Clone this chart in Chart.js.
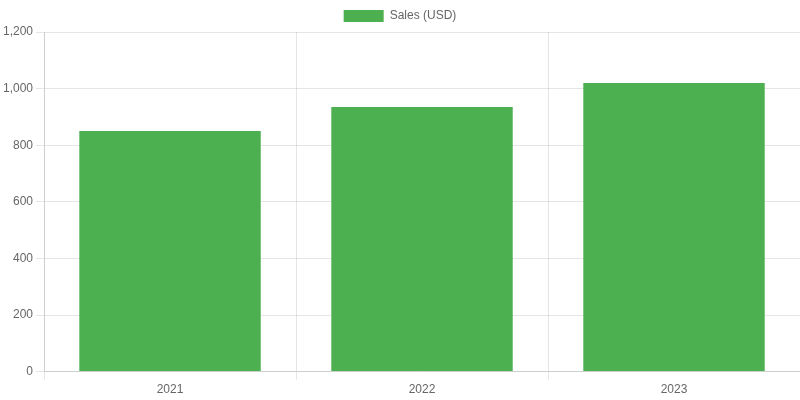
<!DOCTYPE html>
<html>
<head>
<meta charset="utf-8">
<script src="https://cdn.jsdelivr.net/npm/chart.js@4"></script>
<style>
html, body { margin: 0; padding: 0; background: #fff; }
#wrap { width: 800px; height: 400px; }
</style>
</head>
<body>
<div id="wrap"><canvas id="sales"></canvas></div>
<script>
var years = ["2021", "2022", "2023"];
var sales = [850, 935, 1020];

Chart.defaults.font.family = "'Liberation Sans', Arial, sans-serif";

var ctx = document.getElementById("sales");
var myChart = new Chart(ctx, {
  type: 'bar',
  data: {
    labels: years,
    datasets: [{
      label: 'Sales (USD)',
      data: sales,
      backgroundColor: "#4CAF50",
      borderColor: "#4CAF50"
    }]
  },
  options: {
    responsive: true,
    maintainAspectRatio: false,
    animation: false,
    scales: {
      y: {
        beginAtZero: true,
        max: 1200,
        ticks: { stepSize: 200 }
      }
    }
  }
});
</script>
</body>
</html>
